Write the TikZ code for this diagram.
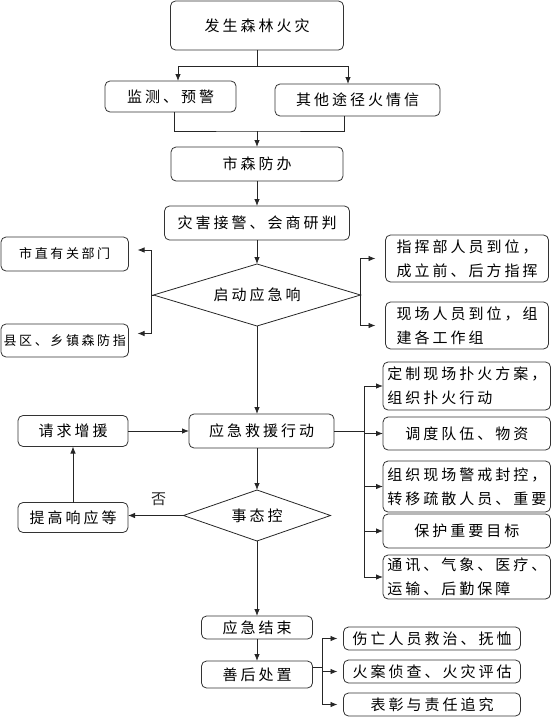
\documentclass[tikz,border=0pt]{standalone}
\usepackage{fontspec}
\setmainfont{Noto Sans CJK SC}[LetterSpace=20]
\usetikzlibrary{positioning,shapes.geometric,arrows.meta}

\begin{document}
\begin{tikzpicture}[x=1pt,y=1pt,
    font=\fontsize{15pt}{24pt}\selectfont,
    box/.style={draw=black!80, line width=0.8pt, rounded corners=5pt,
        inner sep=1.5pt, outer sep=0pt},
    smallbox/.style={box, font=\fontsize{13pt}{20pt}\selectfont},
    decide/.style={draw=black!85, line width=0.8pt, diamond, inner sep=0pt,
        outer sep=0pt},
    line/.style={line width=0.8pt, black!85},
    arr/.style={line, -{Latex[length=7pt,width=5.5pt]}}]
    \useasboundingbox (0,0) rectangle (552,-717);

    \node[box, minimum width=173pt, minimum height=49pt] (fire) at (257,-25.5) {发生森林火灾};
    \node[box, minimum width=131pt, minimum height=31pt, below=31pt of fire, xshift=-86.5pt] (jiance) {监测、预警};
    \node[box, minimum width=165pt, minimum height=32pt, below=34pt of fire, xshift=100.5pt] (qita) {其他途径火情信};
    \node[box, minimum width=172pt, minimum height=34pt, below=97pt of fire] (shi) {市森防办};
    \node[box, minimum width=185pt, minimum height=34pt, below=25pt of shi] (zaihai) {灾害接警、会商研判};
    \node[decide, aspect=3.34, minimum width=207pt, minimum height=62pt, below=24pt of zaihai] (qidong) {启动应急响};

    \node[smallbox, minimum width=127.5pt, minimum height=34pt, left=25pt of qidong, yshift=41pt] (zhi) {市直有关部门};
    \node[smallbox, minimum width=127.5pt, minimum height=33pt, below=53pt of zhi] (xian) {县区、乡镇森防指};
    \node[box, align=left, minimum width=163pt, minimum height=47pt, right=25pt of qidong, yshift=36.5pt] (zhihui) {指挥部人员到位，\\成立前、后方指挥};
    \node[box, align=left, minimum width=163pt, minimum height=47pt, below=20pt of zhihui] (xianchang) {现场人员到位，组\\建各工作组};

    \node[box, minimum width=145pt, minimum height=34pt, below=88pt of qidong, xshift=4.5pt] (yingji) {应急救援行动};
    \node[box, minimum width=110pt, minimum height=31pt, left=61pt of yingji] (qiuzhu) {请求增援};
    \node[box, minimum width=110pt, minimum height=30pt, below=56pt of qiuzhu] (tigao) {提高响应等};
    \node[decide, aspect=2.88, minimum width=147pt, minimum height=51pt, below=42pt of yingji, xshift=-4.5pt] (shitai) {事态控};

    \node[box, align=left, minimum width=167.5pt, minimum height=48pt, right=49pt of yingji, yshift=45pt] (dingzhi) {定制现场扑火方案，\\组织扑火行动};
    \node[box, minimum width=167.5pt, minimum height=33pt, below=7pt of dingzhi] (diaodu) {调度队伍、物资};
    \node[box, align=left, minimum width=167.5pt, minimum height=51pt, below=11pt of diaodu] (zuzhi) {组织现场警戒封控，\\转移疏散人员、重要};
    \node[box, minimum width=167.5pt, minimum height=34pt, below=2pt of zuzhi] (baohu) {保护重要目标};
    \node[box, align=left, minimum width=167.5pt, minimum height=44pt, below=7pt of baohu] (tongxun) {通讯、气象、医疗、\\运输、后勤保障};

    \node[box, minimum width=111pt, minimum height=23pt, below=75pt of shitai] (jieshu) {应急结束};
    \node[box, minimum width=111pt, minimum height=27pt, below=22pt of jieshu] (shanhou) {善后处置};
    \node[box, minimum width=177pt, minimum height=23pt, right=31pt of shanhou, yshift=36pt] (shangwang) {伤亡人员救治、抚恤};
    \node[box, minimum width=177pt, minimum height=23pt, below=10pt of shangwang] (huoan) {火案侦查、火灾评估};
    \node[box, minimum width=177pt, minimum height=23pt, below=10pt of huoan] (biaozhang) {表彰与责任追究};

    % top part
    \draw[line] (fire.south) -- ++(0,-16) coordinate (fs);
    \draw[arr] (fs) -| ([xshift=7.5pt]jiance.north);
    \draw[arr] (fs) -| ([xshift=-9.5pt]qita.north);
    \path (shi.north) ++(0,16) coordinate (mg);
    \draw[line] ([xshift=3.5pt]jiance.south) |- (mg) -| ([xshift=-13.5pt]qita.south);
    \draw[arr] (mg) -- (shi);
    \draw[arr] (shi) -- (zaihai);
    \draw[arr] (zaihai) -- (qidong);

    % response
    \draw[line] (qidong.west) -- ++(-2,0) coordinate (lb);
    \draw[arr, shorten >=9pt] (lb) |- ([yshift=4pt]zhi.east);
    \draw[arr, shorten >=9pt] (lb) |- ([yshift=7pt]xian.east);
    \draw[arr, shorten >=10pt] (qidong.east) |- (zhihui.west);
    \draw[arr, shorten >=10pt] (qidong.east) |- (xianchang.west);
    \draw[arr] (qidong) -- (qidong |- yingji.north);

    % rescue loop
    \draw[arr] (qiuzhu) -- (yingji);
    \draw[arr] (tigao) -- (qiuzhu);
    \draw[arr] (yingji.south -| shitai) -- (shitai);
    \draw[arr] (shitai.west) -- node[above=9pt, inner sep=0pt, pos=0.45] {否} (shitai.west -| tigao.east);
    \draw[line] (yingji.east) -- ++(30,0) coordinate (rb);
    \foreach \b in {dingzhi,diaodu,zuzhi,baohu,tongxun}
        \draw[arr] (rb) |- (\b.west);

    % end
    \draw[arr] (shitai) -- (jieshu);
    \draw[arr] (jieshu) -- (shanhou);
    \draw[line] ([yshift=7.5pt]shanhou.east) -- ++(10,0) coordinate (sb);
    \foreach \b in {shangwang,huoan,biaozhang}
        \draw[arr, shorten >=6pt] (sb) |- (\b.west);
\end{tikzpicture}
\end{document}
